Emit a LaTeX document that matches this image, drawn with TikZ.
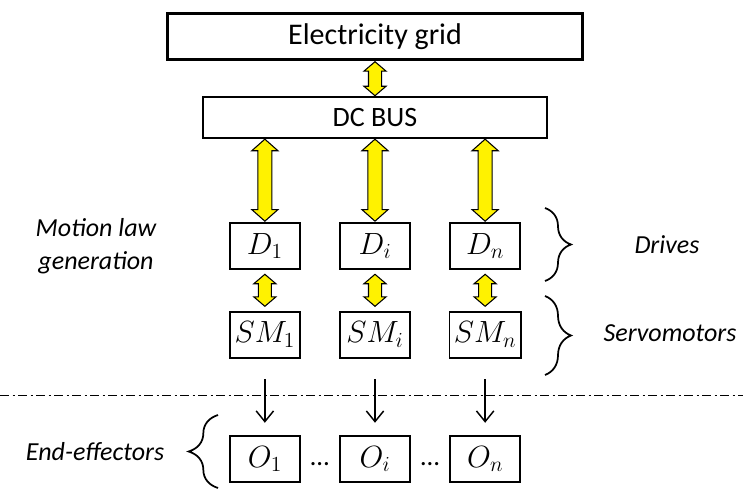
\documentclass[tikz,border=0pt]{standalone}
\usepackage{fix-cm}
\usepackage{fontspec}
\setmainfont{Carlito}
\usepackage{tikz}
\usetikzlibrary{positioning, arrows.meta, shapes.arrows, calc, decorations.pathreplacing}

\begin{document}
\begin{tikzpicture}[x=0.75pt, y=-0.75pt,
    >={Straight Barb[length=8pt, width=13pt]},
    unit/.style={draw, rectangle, line width=1.4pt, minimum width=52.7pt, minimum height=34.7pt, font=\fontsize{23}{27}\selectfont},
    flow/.style={double arrow, draw=black, fill=yellow, line width=0.8pt, inner xsep=0pt, inner ysep=4.5pt, double arrow head extend=3.4pt, double arrow tip angle=99, rotate=90},
    bigflow/.style={flow, inner ysep=4.9pt, double arrow head extend=4.5pt, double arrow tip angle=97},
    note/.style={font=\fontsize{19.5}{24.5}\selectfont\itshape, align=center},
    curly/.style={decorate, decoration={brace, amplitude=#1}, line width=1.3pt}]
    \useasboundingbox (0,0) rectangle (743,489);

    % Nodes
    \node[draw, rectangle, line width=2.5pt, minimum width=311pt, minimum height=34.3pt, font=\fontsize{22.5}{27}\selectfont] (grid) at (375,36.5) {Electricity grid};
    \node[draw, rectangle, line width=1.4pt, minimum width=258pt, minimum height=30.2pt, below=26.5pt of grid, font=\fontsize{21}{25}\selectfont] (dcbus) {DC BUS};
    \node[unit, below=62.5pt of dcbus] (di) {$D_i$};
    \node[unit, left=28.5pt of di] (d1) {$D_1$};
    \node[unit, right=28.5pt of di] (dn) {$D_n$};
    \node[unit, below=30.5pt of d1] (sm1) {$SM_1$};
    \node[unit, below=30.5pt of di] (smi) {$SM_i$};
    \node[unit, below=30.5pt of dn] (smn) {$SM_n$};
    \node[unit, below=57pt of sm1] (o1) {$O_1$};
    \node[unit, below=57pt of smi] (oi) {$O_i$};
    \node[unit, below=57pt of smn] (on) {$O_n$};
    \node[font=\fontsize{20}{24}\selectfont, yshift=-3.75pt] (dots1) at ($(o1.east)!0.5!(oi.west)$) {…};
    \node[font=\fontsize{20}{24}\selectfont, yshift=-3.75pt] (dots2) at ($(oi.east)!0.5!(on.west)$) {…};

    % Labels
    \node[note] (motion) at (96,246) {Motion law\\generation};
    \node[note] (drives) at (667,245) {Drives};
    \node[note] (servo) at (670,333) {Servomotors};
    \node[note] (effectors) at (95,452) {End-effectors};

    % Power flows
    \node[flow, minimum height=25.5pt] (g2b) at ($(grid.south)!0.5!(dcbus.north)$) {};
    \node[bigflow, minimum height=61.5pt] (b2d1) at ($(dcbus.south -| d1.north)!0.5!(d1.north)$) {};
    \node[bigflow, minimum height=61.5pt] (b2di) at ($(dcbus.south -| di.north)!0.5!(di.north)$) {};
    \node[bigflow, minimum height=61.5pt] (b2dn) at ($(dcbus.south -| dn.north)!0.5!(dn.north)$) {};
    \node[flow, minimum height=24pt] (d2sm1) at ($(d1.south)!0.5!(sm1.north)$) {};
    \node[flow, minimum height=24pt] (d2smi) at ($(di.south)!0.5!(smi.north)$) {};
    \node[flow, minimum height=24pt] (d2smn) at ($(dn.south)!0.5!(smn.north)$) {};

    % Connections
    \draw[->, line width=1.1pt, shorten <=15.5pt, shorten >=9pt] (sm1) -- (o1);
    \draw[->, line width=1.1pt, shorten <=15.5pt, shorten >=9pt] (smi) -- (oi);
    \draw[->, line width=1.1pt, shorten <=15.5pt, shorten >=9pt] (smn) -- (on);
    \draw[line width=0.75pt, dash pattern=on 7pt off 2.5pt on 1.5pt off 2.5pt] (0,395) -- (743,395);

    % Braces
    \draw[curly=19.5pt] (545,208) -- (545,281);
    \draw[curly=19.5pt] (545,296) -- (545,375);
    \draw[curly=22pt] (218,488) -- (218,415);
\end{tikzpicture}
\end{document}
